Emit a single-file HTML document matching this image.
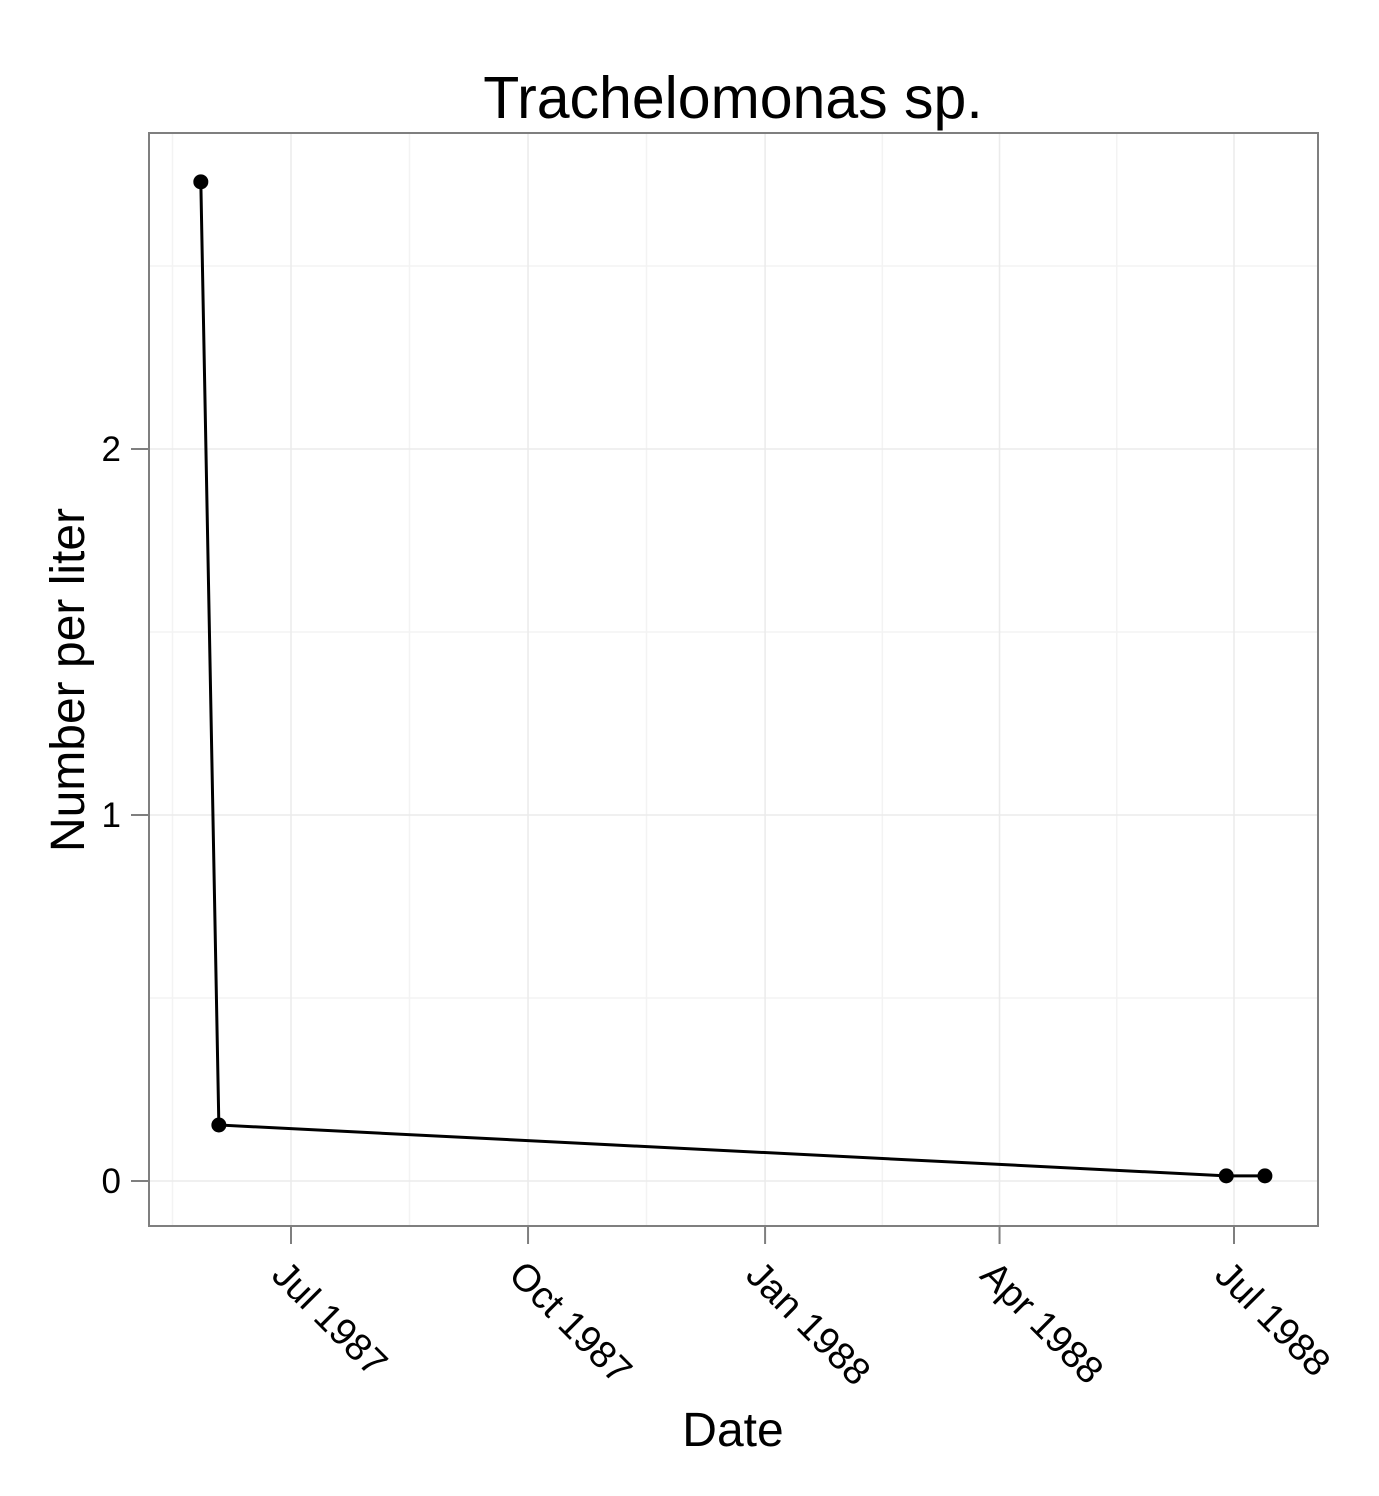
<!DOCTYPE html>
<html><head><meta charset="utf-8"><style>
body{margin:0;background:#fff}
svg{font-family:"Liberation Sans",Arial,sans-serif}
</style></head><body>
<svg id="chart" width="1379" height="1491" viewBox="0 0 1379 1491">
<rect x="0" y="0" width="1379" height="1491" fill="#fff"/>
<text x="733" y="118" font-size="59" text-anchor="middle">Trachelomonas sp.</text>
<g id="grid"></g>
<rect x="149" y="133" width="1169" height="1093" fill="none" stroke="#7f7f7f" stroke-width="2"/>
<g id="axes"></g>
<g id="series"></g>
<text x="733" y="1446" font-size="48" text-anchor="middle">Date</text>
<text transform="translate(84,680) rotate(-90)" font-size="48" text-anchor="middle">Number per liter</text>
</svg>
<script>
const dates = ["1987-05-27","1987-06-03","1988-06-28","1988-07-13"];
const values = [2.73, 0.153, 0.014, 0.014];
const xTickDates = ["1987-07-01","1987-10-01","1988-01-01","1988-04-01","1988-07-01"];
const xTickLabels = ["Jul 1987","Oct 1987","Jan 1988","Apr 1988","Jul 1988"];
const yTicks = [0,1,2];
const yTickLabels = ["0","1","2"];

const NS="http://www.w3.org/2000/svg";
const d0=Date.parse("1987-07-01"), d1=Date.parse("1988-07-01");
function xs(s){const t=Date.parse(s);return 291+(t-d0)/(d1-d0)*(1234-291);}
function ys(v){return 1181-v*366;}
function mk(tag,attrs,parent){const e=document.createElementNS(NS,tag);for(const k in attrs)e.setAttribute(k,attrs[k]);parent.appendChild(e);return e;}
const grid=document.getElementById('grid'),axes=document.getElementById('axes'),series=document.getElementById('series');
for(let i=0;i<yTicks.length;i++){
  const v=yTicks[i]+0.5;
  if(ys(v)>133){const l=mk('line',{x1:149,x2:1318,y1:ys(v),y2:ys(v),stroke:'#f3f3f3','stroke-width':1.5},grid);
  }
}
const tx=xTickDates.map(xs);
const minors=[tx[0]-(tx[1]-tx[0])/2];
for(let i=0;i<tx.length-1;i++)minors.push((tx[i]+tx[i+1])/2);
minors.forEach(x=>{const l=mk('line',{x1:x,x2:x,y1:133,y2:1226,stroke:'#f3f3f3','stroke-width':1.5},grid);
});
yTicks.forEach((v,i)=>{const y=ys(v);
 const g=mk('line',{x1:149,x2:1318,y1:y,y2:y,stroke:'#ebebeb','stroke-width':1.5},grid);
 
 const t=mk('line',{x1:131,x2:149,y1:y,y2:y,stroke:'#7f7f7f','stroke-width':2},axes);
 
 const tl=mk('text',{x:121,y:y+12,'font-size':35,'text-anchor':'end'},axes);tl.textContent=yTickLabels[i];
 
});
xTickDates.forEach((d,i)=>{const x=xs(d);
 const g=mk('line',{x1:x,x2:x,y1:133,y2:1226,stroke:'#ebebeb','stroke-width':1.5},grid);
 
 const t=mk('line',{x1:x,x2:x,y1:1226,y2:1244,stroke:'#7f7f7f','stroke-width':2},axes);
 
 const tl=mk('text',{transform:`translate(${x-21},${1277}) rotate(45)`,'font-size':38,'text-anchor':'start'},axes);tl.textContent=xTickLabels[i];
 
});
const pts=dates.map((d,i)=>xs(d)+','+ys(values[i])).join(' ');
const pl=mk('polyline',{points:pts,fill:'none',stroke:'#000','stroke-width':3},series);

dates.forEach((d,i)=>{const c=mk('circle',{cx:xs(d),cy:ys(values[i]),r:7.5,fill:'#000'},series);
 });
</script>
</body></html>
